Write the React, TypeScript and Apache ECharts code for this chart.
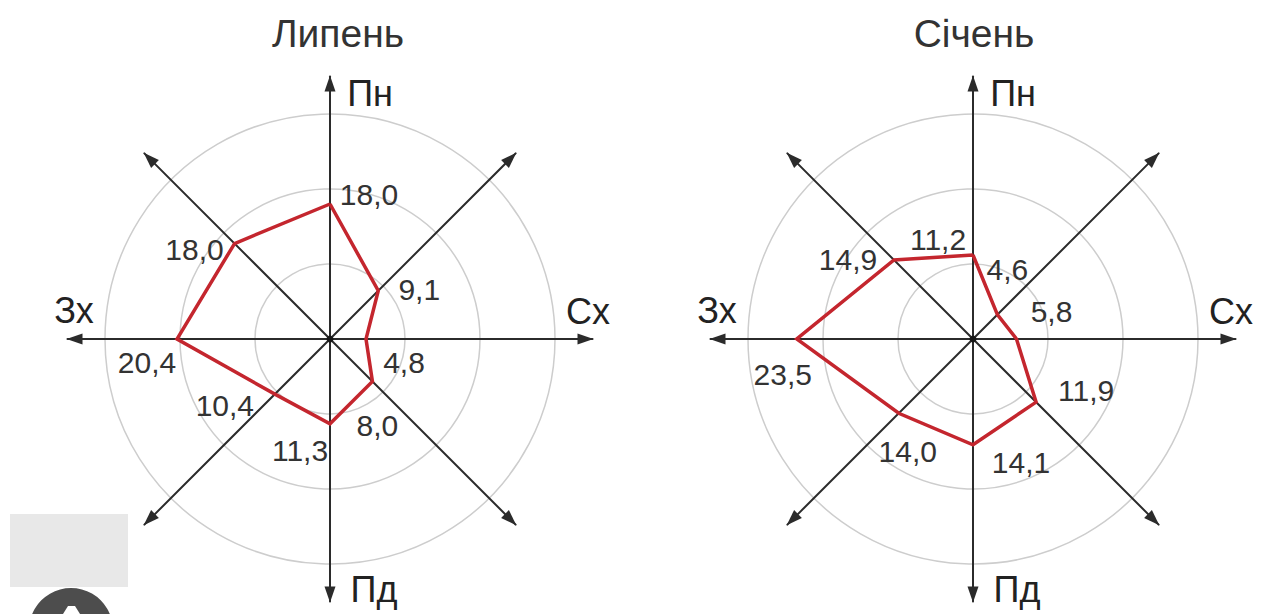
import React, { useEffect, useRef } from "react";
import * as echarts from "echarts";

// ---- data ----
const titles = ["Липень", "Січень"];
const directionNames = ["Пн", "Пн-Сх", "Сх", "Пд-Сх", "Пд", "Пд-Зх", "Зх", "Пн-Зх"];
const directionAngles = [0, 45, 90, 135, 180, 225, 270, 315];
const julyValues = [18.0, 9.1, 4.8, 8.0, 11.3, 10.4, 20.4, 18.0];
const januaryValues = [11.2, 4.6, 5.8, 11.9, 14.1, 14.0, 23.5, 14.9];
const axisMax = 35;
const ringStep = 5; // rings drawn at 10, 20, 30

// ---- layout / style (not data) ----
const centers: number[][] = [
  [330, 339],
  [973, 339],
];
const R = 262.5;
const julyLabelOffsets = [
  [39, -10], [41, -1], [38, 23], [5, 44], [-30, 27], [-50, 11], [-30, 23], [-40, 6],
];
const januaryLabelOffsets = [
  [-35, -16], [10, -45], [35, -28], [50, -12], [48, 18], [9, 38], [-14, 35], [-46, 0],
];
const FONT = '"Liberation Sans", Arial, Helvetica, sans-serif';
const RED = "#c4262e";
const TXT = "#333333";

const fmt = (v: number) => v.toFixed(1).replace(".", ",");

export default function App() {
  const ref = useRef<HTMLDivElement>(null);
  useEffect(() => {
    if (!ref.current) return;
    const chart = echarts.init(ref.current, undefined, { renderer: "svg" });
    const ringColors: string[] = [];
    for (let i = 0; i <= axisMax / ringStep; i++) {
      const v = i * ringStep;
      ringColors.push(v > 0 && v % 10 === 0 && v < axisMax ? "#cdcdcd" : "transparent");
    }
    const months = [
      { values: julyValues, offsets: julyLabelOffsets },
      { values: januaryValues, offsets: januaryLabelOffsets },
    ];
    const series: any[] = [];
    months.forEach((m, i) => {
      const data: any[] = m.values.map((v, k) => ({
        value: [v, directionAngles[k]],
        label: { offset: m.offsets[k] },
      }));
      data.push({ value: [m.values[0], 360], label: { show: false } });
      series.push({
        type: "line",
        coordinateSystem: "polar",
        polarIndex: i,
        data,
        symbol: "circle",
        symbolSize: 1,
        showSymbol: true,
        lineStyle: { color: RED, width: 3.5, join: "miter" },
        itemStyle: { color: RED },
        label: {
          show: true,
          position: "inside",
          fontSize: 30,
          fontFamily: FONT,
          color: TXT,
          formatter: (p: any) => fmt(p.value[0]),
        },
        emphasis: { disabled: true },
        silent: true,
        z: 3,
      });
      series.push({
        type: "scatter",
        coordinateSystem: "polar",
        polarIndex: i,
        data: [[0, 0]],
        symbolSize: 7,
        itemStyle: { color: "#111" },
        silent: true,
        z: 4,
      });
    });

    const dirLabels = [
      { t: "Пн", dx: 40, dy: -246 },
      { t: "Пд", dx: 44, dy: 250 },
      { t: "Зх", dx: -256, dy: -29 },
      { t: "Сх", dx: 258, dy: -28 },
    ];
    const graphics: any[] = [];
    centers.forEach((c, i) => {
      graphics.push({
        type: "text",
        x: c[0] + (i === 0 ? 8 : 1),
        y: 33,
        style: {
          text: titles[i],
          font: `39px ${FONT}`,
          fill: TXT,
          align: "center",
          textAlign: "center",
          verticalAlign: "middle",
          textVerticalAlign: "middle",
        },
      });
      dirLabels.forEach((d) => {
        graphics.push({
          type: "text",
          x: c[0] + d.dx,
          y: c[1] + d.dy,
          style: {
            text: d.t,
            font: `36px ${FONT}`,
            fill: "#222",
            align: "center",
            textAlign: "center",
            verticalAlign: "middle",
            textVerticalAlign: "middle",
          },
        });
      });
    });
    graphics.push({
      type: "rect",
      shape: { x: 10, y: 514, width: 118, height: 73 },
      style: { fill: "#e8e8e8" },
    });
    graphics.push({
      type: "circle",
      shape: { cx: 71, cy: 630, r: 42 },
      style: { fill: "#4d4d4d" },
    });
    graphics.push({
      type: "polygon",
      shape: { points: [[63, 614], [68, 606], [75, 606], [80, 614]] },
      style: { fill: "#ffffff" },
    });

    chart.setOption({
      animation: false,
      backgroundColor: "#ffffff",
      radar: centers.map((c) => ({
        center: c,
        radius: R,
        startAngle: 90,
        shape: "circle",
        splitNumber: axisMax / ringStep,
        indicator: directionNames.map(() => ({ name: "", min: 0, max: axisMax })),
        axisName: { show: false },
        axisLine: {
          show: true,
          symbol: ["none", "triangle"],
          symbolSize: [11, 16],
          symbolOffset: [0, -7],
          lineStyle: { color: "#2b2b2b", width: 2 },
        },
        splitLine: { show: true, lineStyle: { color: ringColors, width: 1.5 } },
        splitArea: { show: false },
        axisTick: { show: false },
        axisLabel: { show: false },
      })),
      polar: centers.map((c) => ({ center: c, radius: R })),
      angleAxis: centers.map((_, i) => ({
        polarIndex: i,
        type: "value",
        min: 0,
        max: 360,
        startAngle: 90,
        clockwise: true,
        show: false,
      })),
      radiusAxis: centers.map((_, i) => ({
        polarIndex: i,
        type: "value",
        min: 0,
        max: axisMax,
        show: false,
      })),
      series,
      graphic: { elements: graphics },
    });
    return () => chart.dispose();
  }, []);
  return (
    <div
      ref={ref}
      style={{ position: "fixed", left: 0, top: 0, width: 1262, height: 614 }}
    />
  );
}
